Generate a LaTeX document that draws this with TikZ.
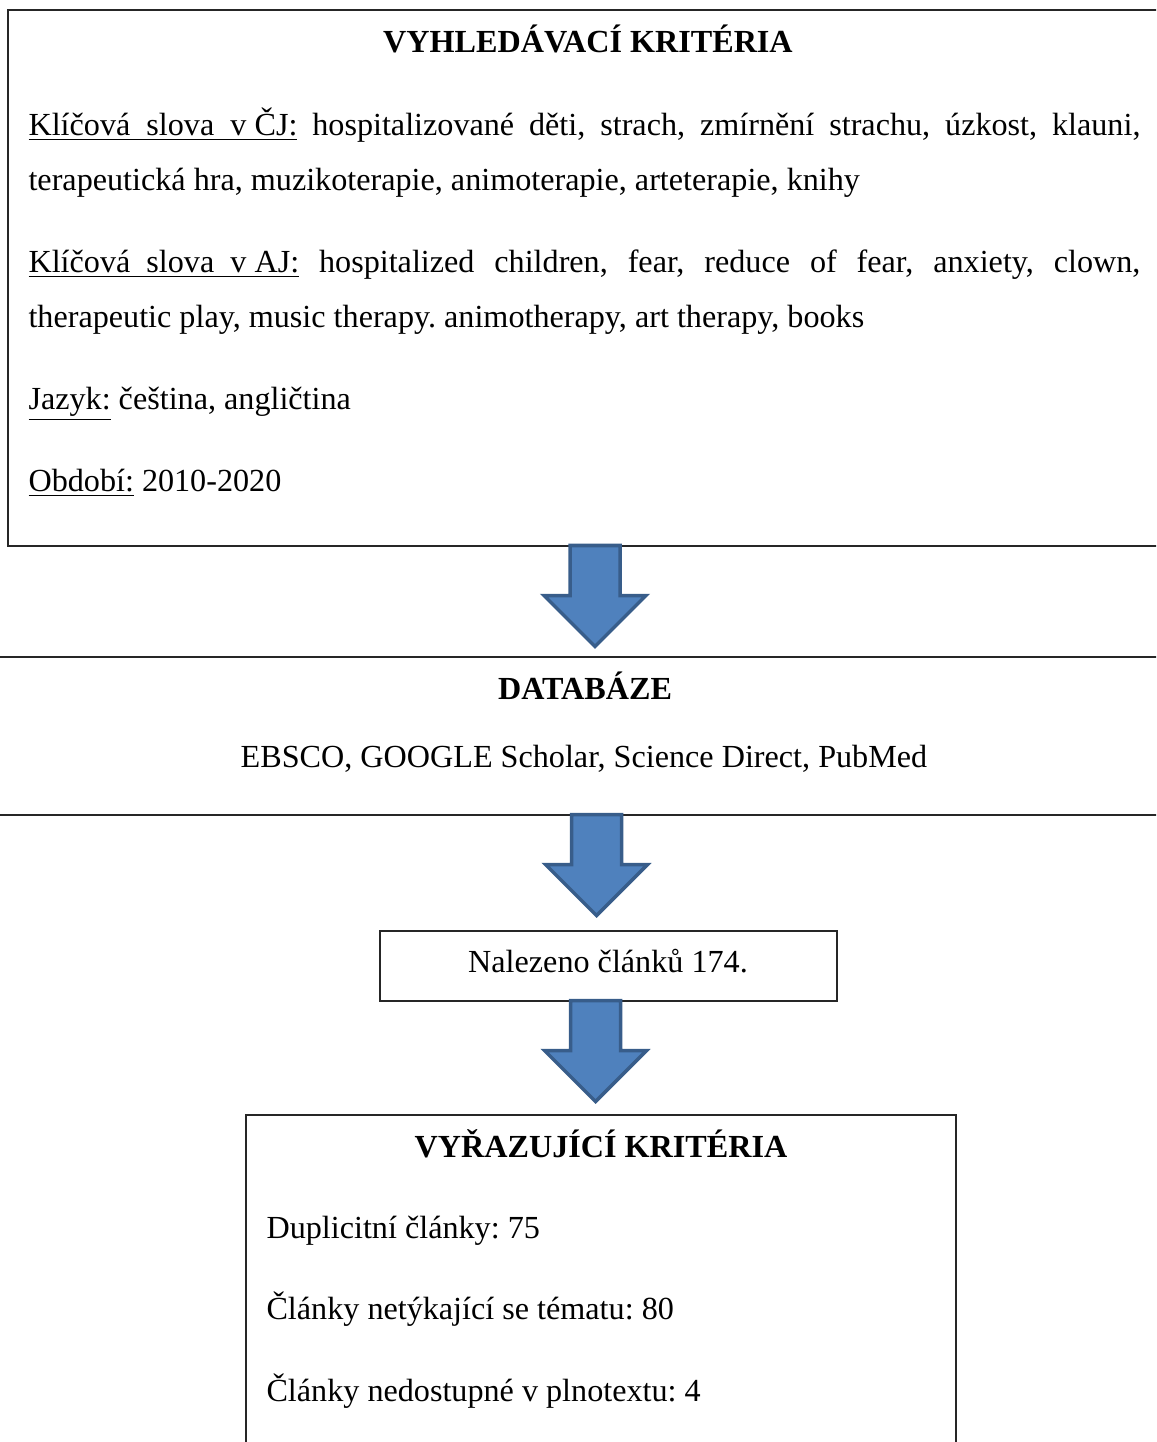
\documentclass[tikz,border=0pt]{standalone}
\usepackage{fontspec}
\setmainfont{Liberation Serif}
\frenchspacing
\definecolor{arrowblue}{HTML}{4F81BD}
\definecolor{arrowedge}{HTML}{385D8A}
\tikzset{every node/.style={inner sep=0pt, font=\fontsize{11.9}{20.7}\selectfont},
  frame/.style={draw=black!85, line width=0.6pt, rectangle},
  txt/.style={anchor=base west},
  para/.style={txt, text width=411.4pt, align=justify},
  head/.style={anchor=base, font=\fontsize{11.9}{20.7}\selectfont\bfseries},
  blockarrow/.pic={\draw[fill=arrowblue, draw=arrowedge, line width=1.3pt, miter limit=10]
    (-25,0) -- (-25,50) -- (-51,50) -- (0,101) -- (51,50) -- (25,50) -- (25,0) -- cycle;}}

\begin{document}
\begin{tikzpicture}[x=0.37pt, y=-0.37pt]
   \useasboundingbox (0,0) rectangle (1156,1442);
   \clip (0,0) rectangle (1156,1442);
   % boxes
   \node[frame, minimum width=433.6pt, minimum height=198.3pt] (search) at (594,278) {};
   \node[frame, minimum width=444pt, minimum height=58.5pt] (db) at (580,736) {};
   \node[frame, minimum width=169.1pt, minimum height=25.9pt] (found) at (608.5,966) {};
   \node[frame, minimum width=262.7pt, minimum height=135.05pt] (excl) at (601,1297.5) {};
   % search criteria
   \node[head] (searchtitle) at (588,52) {VYHLEDÁVACÍ KRITÉRIA};
   \node[para] (kwcz) at (28,135) {\underline{Klíčová\ \ slova\ \ v~ČJ:} hospitalizované děti, strach,
     zmírnění strachu, úzkost, klauni,\linebreak terapeutická hra, muzikoterapie, animoterapie,
     arteterapie, knihy};
   \node[para] (kwen) at (28,272) {\underline{Klíčová\ \ slova\ \ v~AJ:} hospitalized children, fear,
     reduce of fear, anxiety, clown,\linebreak therapeutic play, music therapy. animotherapy,
     art therapy, books};
   \node[txt] (lang) at (28,409) {\underline{Jazyk:} čeština, angličtina};
   \node[txt] (period) at (28,491) {\underline{Období:} 2010-2020};
   % databases
   \node[head] (dbtitle) at (585,699) {DATABÁZE};
   \node[anchor=base] (dblist) at (584,767) {EBSCO, GOOGLE Scholar, Science Direct, PubMed};
   \node[anchor=base] (foundtxt) at (608,972) {Nalezeno článků 174.};
   % exclusion criteria
   \node[head] (excltitle) at (601,1157) {VYŘAZUJÍCÍ KRITÉRIA};
   \node[txt] (dup) at (266,1238) {Duplicitní články: 75};
   \node[txt] (offtopic) at (266,1319) {Články netýkající se tématu: 80};
   \node[txt] (nofull) at (266,1401) {Články nedostupné v plnotextu: 4};
   % arrows
   \coordinate (a1) at (595,545.5);
   \coordinate (a2) at (596.5,814.5);
   \coordinate (a3) at (595.5,1000.5);
   \pic at (a1) {blockarrow};
   \pic at (a2) {blockarrow};
   \pic at (a3) {blockarrow};
\end{tikzpicture}
\end{document}
